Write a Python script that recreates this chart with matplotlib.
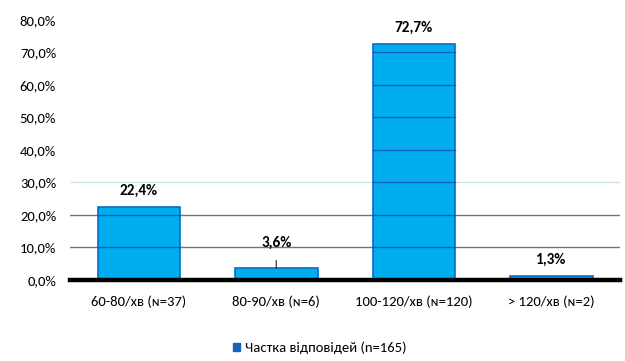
import matplotlib
matplotlib.use("Agg")
import matplotlib.pyplot as plt
from matplotlib.patches import Patch
import numpy as np

categories = ["60-80/хв (ɴ=37)", "80-90/хв (ɴ=6)", "100-120/хв (ɴ=120)", "> 120/хв (ɴ=2)"]
shares = [22.4, 3.6, 72.7, 1.3]
value_labels = ["22,4%", "3,6%", "72,7%", "1,3%"]
y_ticks = [0, 10, 20, 30, 40, 50, 60, 70, 80]
y_tick_labels = ["0,0%", "10,0%", "20,0%", "30,0%", "40,0%", "50,0%", "60,0%", "70,0%", "80,0%"]
series_name = "Частка відповідей (n=165)"

plt.rcParams["font.family"] = ["Carlito", "DejaVu Sans"]

fig = plt.figure(figsize=(6.25, 3.61), dpi=100)
ax = fig.add_axes([0.112, 0.2244, 0.88, 0.7202])

x = np.arange(len(categories))
bar_w = 0.6
fill = "#00AEEF"
edge = "#0B6CC4"

bars = ax.bar(x, shares, width=bar_w, color=fill, edgecolor=edge, linewidth=1.2,
              zorder=2, label=series_name)

# grid lines behind the bars
grid_colors = {10: "#5E7D80", 20: "#5E7D80", 30: "#CFE6F0"}
for t in y_ticks[1:]:
    ax.axhline(t, color=grid_colors.get(t, "#FFFFFF"), linewidth=1.0, zorder=1)

# grid lines showing through the bars
for xi, v in zip(x, shares):
    for t in y_ticks[1:]:
        if t < v:
            ax.plot([xi - bar_w / 2, xi + bar_w / 2], [t, t], color="#0E62B0",
                    linewidth=1.0, zorder=3)

# value labels
for xi, v, lab in zip(x, shares, value_labels):
    if 3 < v < 5:
        ax.annotate(lab, xy=(xi, v), xytext=(0, 26), textcoords="offset pixels",
                    ha="center", va="center", fontsize=11, fontweight="bold",
                    arrowprops=dict(arrowstyle="-", color="#222222", lw=0.8,
                                    shrinkA=6, shrinkB=0), zorder=5)
    else:
        ax.annotate(lab, xy=(xi, v), xytext=(0, 16), textcoords="offset pixels",
                    ha="center", va="center", fontsize=11, fontweight="bold",
                    zorder=5)

ax.set_xlim(-0.5, len(categories) - 0.5)
ax.set_ylim(0, 80)
ax.set_yticks(y_ticks)
ax.set_yticklabels(y_tick_labels, fontsize=10.5)
ax.set_xticks(x)
ax.set_xticklabels(categories, fontsize=10.5)
ax.tick_params(axis="y", length=0, pad=10)
ax.tick_params(axis="x", length=0, pad=11)

for s in ["top", "right", "left"]:
    ax.spines[s].set_visible(False)
ax.spines["bottom"].set_color("black")
ax.spines["bottom"].set_linewidth(3.2)
ax.spines["bottom"].set_zorder(4)

legend_handle = Patch(facecolor="#1464BE", edgecolor="#1464BE")
fig.legend(handles=[legend_handle], labels=[series_name], loc="center",
           bbox_to_anchor=(0.512, 0.036), frameon=False, fontsize=10.5,
           handlelength=0.45, handleheight=0.45, handletextpad=0.4)

fig.savefig("out.png", dpi=100)
